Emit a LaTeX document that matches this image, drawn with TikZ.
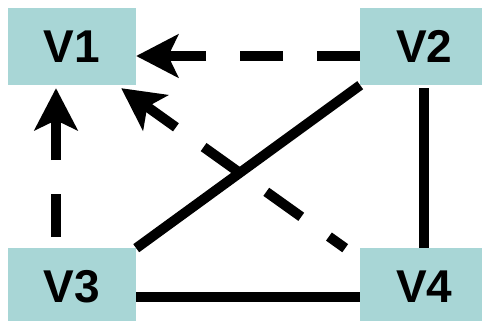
\documentclass[tikz,border=0pt]{standalone}
\usepackage{fontspec}
\setmainfont{Liberation Sans}
\usetikzlibrary{arrows.meta,positioning}
\definecolor{boxteal}{RGB}{168,214,214}

\begin{document}
\begin{tikzpicture}[node distance=163pt and 224pt,
  vertex/.style={rectangle, fill=boxteal, inner sep=0pt,
    minimum width=128pt, minimum height=77pt,
    font=\bfseries\fontsize{46pt}{46pt}\selectfont},
  edge/.style={line width=10pt},
  link/.style={edge, dash pattern=on 43pt off 34pt,
    -{Stealth[length=42pt, width=43pt, inset=10pt]}}]
  \useasboundingbox (0,0) rectangle (482pt,-321pt);
  \clip (0,0) rectangle (482pt,-321pt);
  \node[vertex] (V1) at (72pt,-46.5pt) {V1};
  \node[vertex, right=of V1] (V2) {V2};
  \node[vertex, below=of V1] (V3) {V3};
  \node[vertex, right=of V3] (V4) {V4};

  \draw[link] ([yshift=-9.5pt]V2.west) -- ([yshift=-9.5pt]V1.east);
  \draw[link, shorten <=11pt, shorten >=3pt] ([xshift=-16pt]V3.north) -- ([xshift=-16pt]V1.south);
  \draw[link, dash phase=23pt] ([xshift=-15pt]V4.north west) -- ([xshift=-15pt,yshift=-3pt]V1.south east);
  \draw[edge] (V2.south west) -- (V3.north east);
  \draw[edge, shorten <=3pt] (V2.south) -- (V4.north);
  \draw[edge] ([yshift=-10pt]V3.east) -- ([yshift=-10pt]V4.west);
\end{tikzpicture}
\end{document}
